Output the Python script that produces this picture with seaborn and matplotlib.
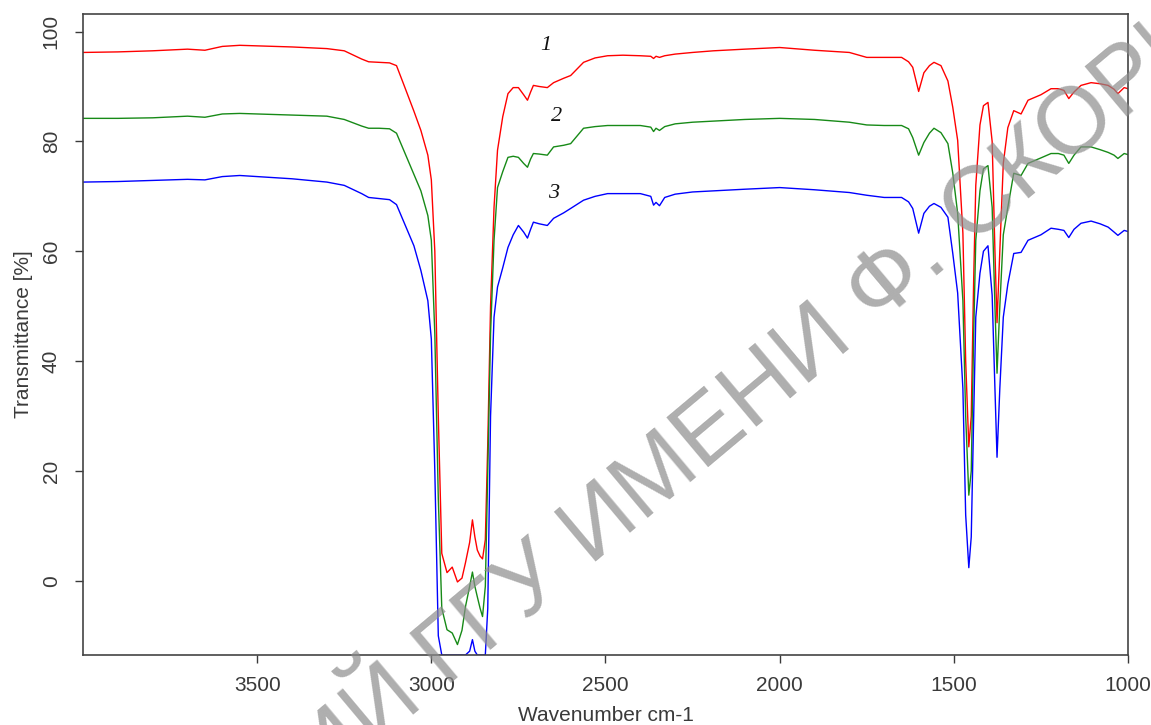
import pandas as pd
import matplotlib
matplotlib.use("Agg")
import matplotlib.pyplot as plt
import seaborn as sns

# wavenumber grid (cm-1)
wavenumber = [4000, 3900, 3800, 3700, 3650, 3600, 3550, 3500, 3400, 3300, 3250, 3200, 3180, 3150, 3120,
              3100, 3080, 3050, 3030, 3010, 3000, 2990, 2980, 2970, 2955, 2940, 2925, 2912, 2902, 2890,
              2882, 2875, 2868, 2860, 2853, 2845, 2838, 2830, 2820, 2810, 2795, 2780, 2765, 2750, 2735,
              2724, 2715, 2707, 2690, 2667, 2649, 2620, 2600, 2563, 2530, 2494, 2450, 2400, 2370, 2362,
              2355, 2345, 2330, 2300, 2250, 2190, 2100, 2000, 1900, 1800, 1750, 1700, 1650, 1630, 1618,
              1601, 1586, 1570, 1557, 1537, 1517, 1503, 1489, 1474, 1466, 1457, 1450, 1443, 1437, 1425,
              1415, 1402, 1390, 1382, 1376, 1368, 1358, 1345, 1328, 1307, 1287, 1250, 1221, 1200, 1184,
              1170, 1155, 1135, 1106, 1080, 1057, 1040, 1029, 1011, 1000]

# spectrum 1 (red)
trans_1 = [96.2, 96.3, 96.5, 96.8, 96.6, 97.3, 97.5, 97.4, 97.2, 96.9, 96.5, 95.0, 94.5, 94.4, 94.3,
           93.8, 90.5, 85.5, 82.0, 77.5, 73.0, 60.0, 30.0, 5.0, 1.5, 2.5, -0.2, 0.5, 3.3, 7.0,
           11.1, 8.0, 5.6, 4.5, 4.0, 7.5, 25.0, 50.0, 68.0, 78.4, 84.5, 88.7, 89.8, 89.8, 88.5,
           87.5, 89.0, 90.2, 90.0, 89.8, 90.7, 91.5, 92.0, 94.4, 95.2, 95.6, 95.7, 95.6, 95.5, 95.1,
           95.5, 95.3, 95.6, 95.9, 96.2, 96.5, 96.8, 97.1, 96.6, 96.2, 95.3, 95.3, 95.3, 94.5, 93.5,
           89.1, 92.5, 93.8, 94.4, 93.8, 91.0, 86.2, 80.2, 63.3, 40.0, 24.4, 30.0, 55.0, 72.0, 83.0,
           86.5, 87.1, 80.0, 60.0, 47.0, 60.0, 76.0, 82.5, 85.6, 85.0, 87.5, 88.5, 89.6, 89.6, 89.3,
           87.8, 89.0, 90.2, 90.7, 90.5, 90.2, 89.5, 88.7, 89.8, 89.6]

# spectrum 2 (green)
trans_2 = [84.2, 84.2, 84.3, 84.6, 84.4, 85.0, 85.1, 85.0, 84.8, 84.6, 84.0, 82.8, 82.4, 82.4, 82.3,
           81.5, 78.5, 74.0, 71.0, 66.5, 62.0, 45.0, 15.0, -5.0, -8.9, -9.5, -11.6, -9.0, -4.7, -1.0,
           1.6, -1.0, -2.9, -5.0, -6.5, -1.0, 20.0, 45.0, 62.0, 71.6, 74.5, 77.1, 77.3, 77.1, 76.0,
           75.3, 76.8, 77.8, 77.7, 77.5, 79.0, 79.3, 79.6, 82.4, 82.7, 82.9, 82.9, 82.9, 82.6, 81.8,
           82.4, 82.0, 82.7, 83.2, 83.5, 83.7, 84.0, 84.2, 84.0, 83.5, 83.0, 82.9, 82.9, 82.3, 80.7,
           77.5, 79.8, 81.5, 82.4, 81.6, 79.6, 74.2, 66.9, 51.0, 30.0, 15.6, 20.0, 45.0, 62.0, 71.0,
           75.0, 75.6, 68.0, 50.0, 37.8, 50.0, 63.0, 68.0, 74.2, 73.8, 76.0, 77.0, 77.8, 77.8, 77.5,
           76.0, 77.5, 79.0, 79.0, 78.5, 78.0, 77.5, 76.9, 77.8, 77.6]

# spectrum 3 (blue)
trans_3 = [72.6, 72.7, 72.9, 73.1, 73.0, 73.6, 73.8, 73.6, 73.2, 72.6, 72.0, 70.5, 69.8, 69.6, 69.4,
           68.5, 65.5, 61.0, 56.5, 51.0, 44.0, 20.0, -10.0, -13.5, -13.5, -13.5, -13.5, -13.5, -13.5, -12.8,
           -10.7, -12.8, -13.5, -13.5, -13.5, -13.5, -5.0, 30.0, 48.0, 53.5, 57.0, 60.7, 63.0, 64.7, 63.5,
           62.4, 64.0, 65.3, 65.0, 64.7, 66.0, 67.0, 67.8, 69.3, 70.0, 70.5, 70.5, 70.5, 70.0, 68.4,
           68.9, 68.3, 69.8, 70.4, 70.8, 71.0, 71.3, 71.6, 71.2, 70.7, 70.2, 69.8, 69.8, 69.0, 67.8,
           63.3, 66.9, 68.2, 68.7, 68.0, 66.2, 59.6, 52.4, 35.0, 12.0, 2.4, 8.0, 30.0, 48.0, 56.0,
           60.0, 61.0, 52.0, 35.0, 22.5, 35.0, 48.0, 54.0, 59.6, 59.8, 62.0, 63.0, 64.2, 64.0, 63.8,
           62.5, 64.0, 65.1, 65.5, 65.0, 64.4, 63.5, 62.9, 63.8, 63.6]

curve_names = ["1", "2", "3"]
curve_label_x = [2672, 2641, 2649]
curve_label_y = [97.5, 84.5, 70.5]
y_ticks = [0, 20, 40, 60, 80, 100]
x_ticks = [3500, 3000, 2500, 2000, 1500, 1000]

df = pd.concat([
    pd.DataFrame({"wn": wavenumber, "T": t, "curve": name})
    for t, name in zip([trans_1, trans_2, trans_3], curve_names)
])

sns.set_style("ticks")
plt.rcParams["font.family"] = ["Liberation Sans", "DejaVu Sans"]

fig = plt.figure(figsize=(11.51, 7.25), dpi=100)
ax = fig.add_axes([83 / 1151, 1 - 655 / 725, (1128 - 83) / 1151, (655 - 14) / 725])

sns.lineplot(data=df, x="wn", y="T", hue="curve", estimator=None, legend=False,
             palette={"1": "#ff0000", "2": "#178a17", "3": "#0000ff"}, linewidth=1.0, ax=ax)

ax.set_xlim(4000, 1000)
ax.set_ylim(-13.5, 103.2)
ax.set_xticks(x_ticks)
ax.set_yticks(y_ticks)
ax.tick_params(axis="both", labelsize=15, colors="#3a3a3a", length=6, width=1.0)
ax.tick_params(axis="x", pad=9)
ax.tick_params(axis="y", pad=10)
for lab in ax.get_yticklabels():
    lab.set_rotation(90)
    lab.set_va("center")
ax.set_xlabel("Wavenumber cm-1", fontsize=15, color="#3a3a3a", labelpad=8)
ax.set_ylabel("Transmittance [%]", fontsize=15, color="#3a3a3a", labelpad=6)
for sp in ax.spines.values():
    sp.set_color("#444444")
    sp.set_linewidth(1.2)

for name, lx, ly in zip(curve_names, curve_label_x, curve_label_y):
    ax.text(lx, ly, name, fontsize=16, style="italic", family="Liberation Serif",
            ha="center", va="center", color="#111111")

# watermark
fig.text(0.513, 0.264, "РЕПОЗИТОРИЙ ГГУ ИМЕНИ Ф. СКОРИНЫ", fontsize=68, color="#8c8c8c",
         alpha=0.7, rotation=40, rotation_mode="anchor", ha="center", va="center", zorder=10)

fig.savefig("out.png", dpi=100)
